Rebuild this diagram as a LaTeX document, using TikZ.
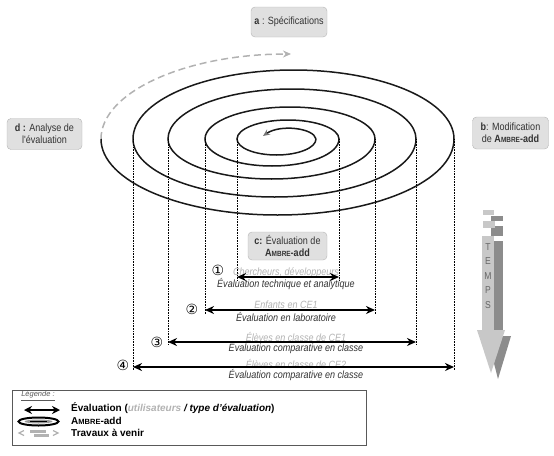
\documentclass[tikz,border=0pt]{standalone}
\usepackage{fontspec}
\setmainfont{Liberation Sans}
\newfontfamily\dejavu{DejaVu Sans}
\newfontfamily\narrow{Liberation Sans}[FakeStretch=0.86]
\usetikzlibrary{arrows.meta}
\newcommand\ambre{A{\fontsize{7.5}{8}\selectfont MBRE}-add}
\definecolor{lightg}{HTML}{C8C8C8}
\definecolor{darkg}{HTML}{8C8C8C}
\definecolor{boxfill}{HTML}{E0E0E0}
\definecolor{boxline}{HTML}{B4B4B4}
\begin{document}
\begin{tikzpicture}[x=1pt,y=1pt,
  roundbox/.style={draw=boxline, fill=boxfill, rounded corners=4pt, inner sep=0pt, align=center, text=black!80, font=\narrow\fontsize{10.5}{12}\selectfont},
  spiralline/.style={line width=1.5pt, black!90},
  dotline/.style={densely dotted, line width=0.6pt},
  evarrow/.style={{Stealth[length=9pt,width=8pt]}-{Stealth[length=9pt,width=8pt]}, line width=1.6pt},
  glabel/.style={font=\narrow\fontsize{10.5}{11}\selectfont\itshape, text=black!30, inner sep=0pt},
  blabel/.style={font=\narrow\fontsize{10.5}{11}\selectfont\itshape, text=black!80, inner sep=0pt},
  numlabel/.style={font=\dejavu\fontsize{14}{14}\selectfont, inner sep=0pt},
  legtext/.style={font=\fontsize{10}{11}\selectfont\bfseries, anchor=west, inner sep=0pt}
]
\useasboundingbox (0,0) rectangle (554,-455);

% boxes
\node[roundbox, minimum width=76pt, minimum height=30pt] (a) at (289,-22) {\textbf{a} : Spécifications};
\node[roundbox, minimum width=75pt, minimum height=31pt] (d) at (44.5,-134) {\textbf{d :} Analyse de\\l'évaluation};
\node[roundbox, minimum width=76pt, minimum height=32pt] (b) at (510.5,-133) {\textbf{b}: Modification\\de \textbf{\ambre}};
\node[roundbox, minimum width=79pt, minimum height=28pt] (c) at (287.5,-246) {\textbf{c:} Évaluation de\\\textbf{\ambre}};

% spiral extremes
\coordinate (R0) at (316,-139);
\coordinate (L1) at (237,-139); \coordinate (R1) at (339,-139);
\coordinate (L2) at (205,-139); \coordinate (R2) at (375,-139);
\coordinate (L3) at (168,-139); \coordinate (R3) at (416,-139);
\coordinate (L4) at (133,-139); \coordinate (R4) at (454,-139);
\coordinate (L5) at (101,-139);

% dashed future arc
\draw[line width=1.5pt, black!30, dash pattern=on 7pt off 4pt, -{Stealth[length=8pt,width=7pt]}]
  (L5) arc[start angle=180, end angle=90, x radius=190pt, y radius=85pt];

% spiral
\draw[spiralline] (R0)
  arc[start angle=0,end angle=-180,x radius=39.5pt,y radius=16pt]
  arc[start angle=180,end angle=0,x radius=51pt,y radius=19pt]
  arc[start angle=0,end angle=-180,x radius=67pt,y radius=27pt]
  arc[start angle=180,end angle=0,x radius=85pt,y radius=32pt]
  arc[start angle=0,end angle=-180,x radius=103.5pt,y radius=40pt]
  arc[start angle=180,end angle=0,x radius=124pt,y radius=50pt]
  arc[start angle=0,end angle=-180,x radius=141.5pt,y radius=58pt]
  arc[start angle=180,end angle=0,x radius=160.5pt,y radius=69pt]
  arc[start angle=0,end angle=-180,x radius=176.5pt,y radius=76pt];
\draw[spiralline, -{Stealth[length=7pt,width=6pt,color=black!55]}] (R0) .. controls (314,-128) and (280,-124) .. (263,-136);

% levels
\coordinate (d1) at (0,-281); \coordinate (a1) at (0,-277);
\coordinate (d2) at (0,-314); \coordinate (a2) at (0,-310);
\coordinate (d3) at (0,-345); \coordinate (a3) at (0,-342);
\coordinate (d4) at (0,-370); \coordinate (a4) at (0,-367);

\draw[dotline] (L1) -- (L1 |- d1); \draw[dotline] (R1) -- (R1 |- d1);
\draw[dotline] (L2) -- (L2 |- d2); \draw[dotline] (R2) -- (R2 |- d2);
\draw[dotline] (L3) -- (L3 |- d3); \draw[dotline] (R3) -- (R3 |- d3);
\draw[dotline] (L4) -- (L4 |- d4); \draw[dotline] (R4) -- (R4 |- d4);

\node[glabel] (g1) at (286,-273) {Chercheurs, développeurs};
\node[blabel] (t1) at (286,-284) {Évaluation technique et analytique};
\node[glabel] (g2) at (286,-305) {Enfants en CE1};
\node[blabel] (t2) at (286,-317) {Évaluation en laboratoire};
\node[glabel] (g3) at (296,-337) {Élèves en classe de CE1};
\node[blabel] (t3) at (296,-348) {Évaluation comparative en classe};
\node[glabel] (g4) at (296,-364) {Élèves en classe de CE2};
\node[blabel] (t4) at (296,-375) {Évaluation comparative en classe};

\draw[evarrow] (L1 |- a1) -- (R1 |- a1);
\draw[evarrow] (L2 |- a2) -- (R2 |- a2);
\draw[evarrow] (L3 |- a3) -- (R3 |- a3);
\draw[evarrow] (L4 |- a4) -- (R4 |- a4);

\node[numlabel] (n1) at (218,-270) {①};
\node[numlabel] (n2) at (192,-309) {②};
\node[numlabel] (n3) at (157,-342) {③};
\node[numlabel] (n4) at (123,-365) {④};

% TEMPS arrow
\fill[darkg] (491,-216) rectangle (503,-221);
\fill[darkg] (491,-226) rectangle (503,-236);
\fill[darkg] (494,-241) rectangle (503,-337);
\fill[darkg] (487,-336) -- (511,-336) -- (498,-379) -- cycle;
\fill[lightg] (483,-210) rectangle (494,-215);
\fill[lightg] (483,-221) rectangle (495,-228);
\fill[lightg] (482,-236) rectangle (494,-331);
\fill[lightg] (477,-330) -- (505,-330) -- (491,-373) -- cycle;
\node[font=\narrow\fontsize{10}{14.5}\selectfont, align=center, text=black!60, inner sep=0pt] (temps) at (488,-276) {T\\E\\M\\P\\S};

% legend
\node[draw=black!65, line width=0.8pt, minimum width=354pt, minimum height=55pt, inner sep=0pt] (leg) at (189,-417.5) {};
\node[font=\fontsize{7.5}{8}\selectfont\itshape, text=black!65, inner sep=0pt] (legtitle) at (38,-396) {\underline{Légende :}};
\coordinate (la1) at (24,-410); \coordinate (la2) at (60,-410);
\draw[{Stealth[length=8pt,width=8pt]}-{Stealth[length=8pt,width=8pt]}, line width=1.6pt] (la1) -- (la2);
\draw[line width=2pt] (38.5,-421.5) ellipse [x radius=20pt, y radius=4pt];
\fill[black!40] (38.5,-421.5) ellipse [x radius=14pt, y radius=2pt];
\draw[line width=1pt] (30,-421.5) -- (47,-421.5);
\draw[black!30, line width=1.2pt] (24,-430.5) -- (19,-433) -- (24,-435.5);
\fill[black!30] (30,-430) rectangle (46,-432.5);
\fill[black!30] (34,-434) rectangle (49,-436.5);
\draw[black!30, line width=1.2pt] (53,-430.5) -- (58,-433) -- (53,-435.5);
\node[legtext] (lt1) at (71,-408) {Évaluation ({\color{black!30}\itshape utilisateurs} \textit{/ type d'évaluation})};
\node[legtext] (lt2) at (71,-420.5) {\ambre};
\node[legtext] (lt3) at (71,-433) {Travaux à venir};
\end{tikzpicture}
\end{document}
